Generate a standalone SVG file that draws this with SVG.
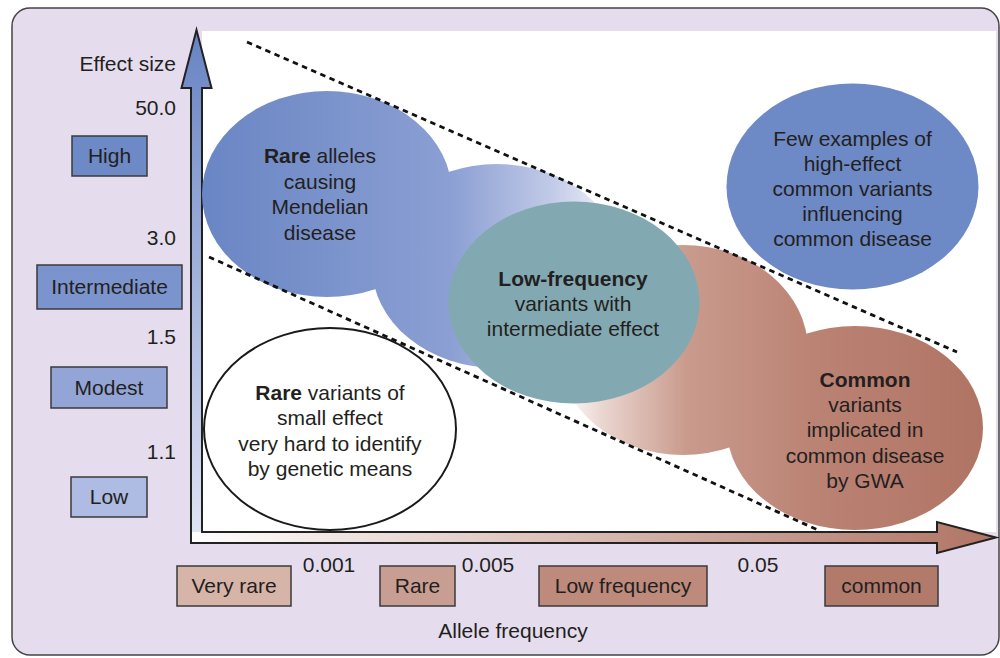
<svg xmlns="http://www.w3.org/2000/svg" width="1000" height="658" viewBox="0 0 1000 658">
  <defs>
    <linearGradient id="gBlue" gradientUnits="userSpaceOnUse" x1="205" y1="0" x2="615" y2="0">
      <stop offset="0" stop-color="#6a86c4"/>
      <stop offset="0.6" stop-color="#8b9fd3"/>
      <stop offset="0.85" stop-color="#c2cbe8"/>
      <stop offset="1" stop-color="#f4f5fb"/>
    </linearGradient>
    <linearGradient id="gBrown" gradientUnits="userSpaceOnUse" x1="560" y1="0" x2="980" y2="0">
      <stop offset="0" stop-color="#ffffff"/>
      <stop offset="0.1" stop-color="#ead6d0"/>
      <stop offset="0.3" stop-color="#c99b8d"/>
      <stop offset="0.6" stop-color="#bb8374"/>
      <stop offset="1" stop-color="#b07464"/>
    </linearGradient>
    <linearGradient id="gVert" gradientUnits="userSpaceOnUse" x1="0" y1="30" x2="0" y2="543">
      <stop offset="0" stop-color="#6783c3"/>
      <stop offset="1" stop-color="#e2e6f5"/>
    </linearGradient>
    <linearGradient id="gHorz" gradientUnits="userSpaceOnUse" x1="190" y1="0" x2="996" y2="0">
      <stop offset="0" stop-color="#ffffff"/>
      <stop offset="1" stop-color="#b07464"/>
    </linearGradient>
    <style>
      text { font-family: "Liberation Sans", Arial, Helvetica, sans-serif; font-size: 21px; fill: #231f20; }
      .mid { text-anchor: middle; }
      .end { text-anchor: end; }
      .b { font-weight: bold; }
      .box { stroke: #3a3a3a; stroke-width: 1.5; }
      .dash { fill: none; stroke: #111; stroke-width: 2.8; stroke-dasharray: 5.5 4.5; }
    </style>
  </defs>

  <!-- frame -->
  <rect x="12" y="8" width="987" height="647" rx="18" fill="#e5ddee" stroke="#444" stroke-width="1.5"/>
  <rect x="202" y="31" width="794" height="501" fill="#ffffff"/>

  <!-- axes -->
  <g id="axes">
    <polygon points="190,532 937,532 937,522 996,537.5 937,553 937,543 190,543" fill="url(#gHorz)"/>
    <polygon points="191,532 191,88 181.5,88 196.5,30 211.5,88 202,88 202,532" fill="url(#gVert)"/>
    <path d="M191,543 L191,88 L181.5,88 L196.5,30 L211.5,88 L202,88 L202,532 L937,532 L937,522 L996,537.5 L937,553 L937,543 Z" fill="none" stroke="#222" stroke-width="2" stroke-linejoin="miter"/>
    <text x="176" y="71" class="end">Effect size</text>
    <text x="513" y="638" class="mid">Allele frequency</text>
  </g>

  <!-- effect size scale -->
  <g id="effect-scale">
    <text x="176" y="115" class="end">50.0</text>
    <text x="176" y="245" class="end">3.0</text>
    <text x="176" y="344" class="end">1.5</text>
    <text x="176" y="459" class="end">1.1</text>
  </g>
  <g id="box-high">
    <rect x="72" y="136" width="75" height="40" class="box" fill="#6d89c6"/>
    <text x="109.5" y="163" class="mid">High</text>
  </g>
  <g id="box-intermediate">
    <rect x="37" y="265" width="145" height="44" class="box" fill="#7c94cd"/>
    <text x="109.5" y="294" class="mid">Intermediate</text>
  </g>
  <g id="box-modest">
    <rect x="51" y="367" width="116" height="41" class="box" fill="#93a5d7"/>
    <text x="109" y="395" class="mid">Modest</text>
  </g>
  <g id="box-low">
    <rect x="71" y="477" width="76" height="40" class="box" fill="#aebbe2"/>
    <text x="109" y="504" class="mid">Low</text>
  </g>

  <!-- allele frequency scale -->
  <g id="freq-scale">
    <text x="329" y="572" class="mid">0.001</text>
    <text x="488" y="572" class="mid">0.005</text>
    <text x="758" y="572" class="mid">0.05</text>
  </g>
  <g id="box-very-rare">
    <rect x="177" y="566" width="114" height="40" class="box" fill="#d6b4a8"/>
    <text x="234" y="593" class="mid">Very rare</text>
  </g>
  <g id="box-rare">
    <rect x="380" y="566" width="75" height="40" class="box" fill="#c99e92"/>
    <text x="417.5" y="593" class="mid">Rare</text>
  </g>
  <g id="box-low-frequency">
    <rect x="539" y="566" width="168" height="40" class="box" fill="#bd8a7c"/>
    <text x="623" y="593" class="mid">Low frequency</text>
  </g>
  <g id="box-common">
    <rect x="825" y="566" width="113" height="40" class="box" fill="#b17a6b"/>
    <text x="881.5" y="593" class="mid">common</text>
  </g>

  <!-- rare alleles causing Mendelian disease -->
  <g id="rare-mendelian">
    <ellipse cx="327" cy="194" rx="125" ry="103" fill="url(#gBlue)"/>
    <ellipse cx="497" cy="266" rx="125" ry="102" fill="url(#gBlue)"/>
    <text x="320" y="163" class="mid"><tspan class="b">Rare</tspan> alleles</text>
    <text x="320" y="189" class="mid">causing</text>
    <text x="320" y="214" class="mid">Mendelian</text>
    <text x="320" y="240" class="mid">disease</text>
  </g>

  <!-- common variants implicated in common disease -->
  <g id="common-gwa">
    <ellipse cx="683" cy="350" rx="125" ry="105" fill="url(#gBrown)"/>
    <ellipse cx="855" cy="428" rx="128" ry="102" fill="url(#gBrown)"/>
    <text x="865" y="387" class="mid b">Common</text>
    <text x="865" y="412" class="mid">variants</text>
    <text x="865" y="437" class="mid">implicated in</text>
    <text x="865" y="463" class="mid">common disease</text>
    <text x="865" y="488" class="mid">by GWA</text>
  </g>

  <!-- low-frequency variants -->
  <g id="low-frequency">
    <ellipse cx="574" cy="302.5" rx="125.5" ry="101" fill="#82a9b1"/>
    <text x="573" y="286" class="mid b">Low-frequency</text>
    <text x="573" y="311" class="mid">variants with</text>
    <text x="573" y="336" class="mid">intermediate effect</text>
  </g>

  <!-- high-effect common variants -->
  <g id="high-effect-common">
    <ellipse cx="852.5" cy="186.5" rx="126" ry="103" fill="#6d89c6"/>
    <text x="852.5" y="146" class="mid">Few examples of</text>
    <text x="852.5" y="171" class="mid">high-effect</text>
    <text x="852.5" y="196" class="mid">common variants</text>
    <text x="852.5" y="221" class="mid">influencing</text>
    <text x="852.5" y="246" class="mid">common disease</text>
  </g>

  <!-- rare variants of small effect -->
  <g id="rare-small-effect">
    <ellipse cx="330" cy="429" rx="126" ry="101" fill="#ffffff" stroke="#1a1a1a" stroke-width="2"/>
    <text x="330" y="400" class="mid"><tspan class="b">Rare</tspan> variants of</text>
    <text x="330" y="425" class="mid">small effect</text>
    <text x="330" y="451" class="mid">very hard to identify</text>
    <text x="330" y="476" class="mid">by genetic means</text>
  </g>

  <!-- boundary lines -->
  <g id="connectors">
    <line x1="247" y1="42" x2="957" y2="352" class="dash"/>
    <line x1="209" y1="257" x2="818" y2="530" class="dash"/>
  </g>
</svg>
